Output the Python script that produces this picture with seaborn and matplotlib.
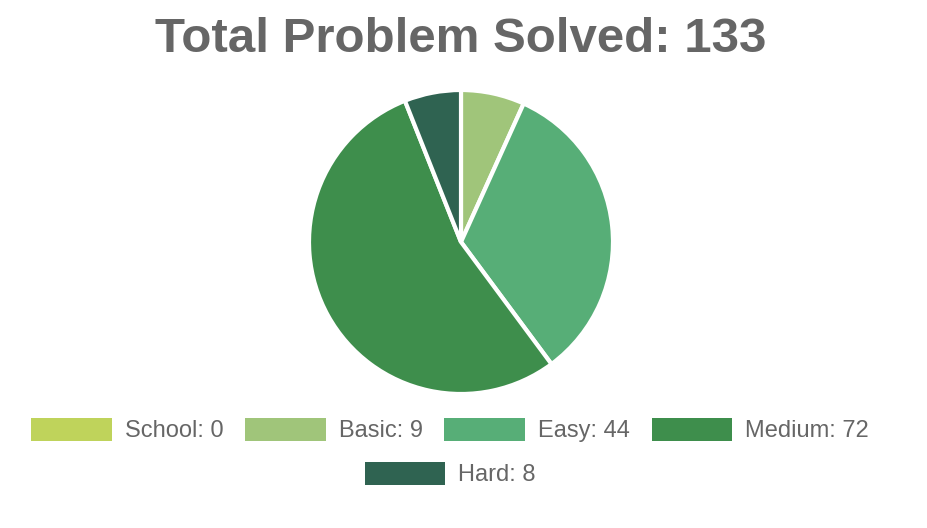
import matplotlib
matplotlib.use("Agg")
import matplotlib.pyplot as plt
import seaborn as sns

# data
levels = ['School', 'Basic', 'Easy', 'Medium', 'Hard']
solved = [0, 9, 44, 72, 8]
colors = ['#bfd35b', '#a0c57a', '#57ae77', '#3e8e4c', '#2f6351']
title = f"Total Problem Solved: {sum(solved)}"

sns.set_theme(style="white")
plt.rcParams['font.family'] = ['Liberation Sans', 'DejaVu Sans']

fig = plt.figure(figsize=(9.28, 5.28), dpi=100)

# pie area
r = 152
cx, cy = 461, 528 - 242
ax = fig.add_axes([(cx - r) / 928, (cy - r) / 528, 2 * r / 928, 2 * r / 528])
wedges, _ = ax.pie(solved, colors=colors, startangle=90, counterclock=False,
                   wedgeprops=dict(edgecolor='white', linewidth=3))
ax.set_xlim(-1, 1)
ax.set_ylim(-1, 1)
ax.set_aspect('equal')
ax.axis('off')

# title
fig.text(461 / 928, 1 - 40 / 528, title, ha='center', va='center',
         fontsize=35.5, fontweight='bold', color='#666666')

# legend, two rows like the original
labels = [f"{l}: {v}" for l, v in zip(levels, solved)]
leg_kw = dict(frameon=False, fontsize=17, labelcolor='#666666',
              handlelength=3.4, handleheight=1.15, handletextpad=0.55,
              columnspacing=0.93, borderpad=0, borderaxespad=0)
leg1 = fig.legend(wedges[:4], labels[:4], ncol=4, loc='center',
                  bbox_to_anchor=(450 / 928, 1 - 430 / 528), **leg_kw)
leg2 = fig.legend(wedges[4:], labels[4:], ncol=1, loc='center',
                  bbox_to_anchor=(450 / 928, 1 - 474 / 528), **leg_kw)
for leg in (leg1, leg2):
    for h in leg.legend_handles:
        h.set_linewidth(0)

fig.savefig("out.png", dpi=100)
